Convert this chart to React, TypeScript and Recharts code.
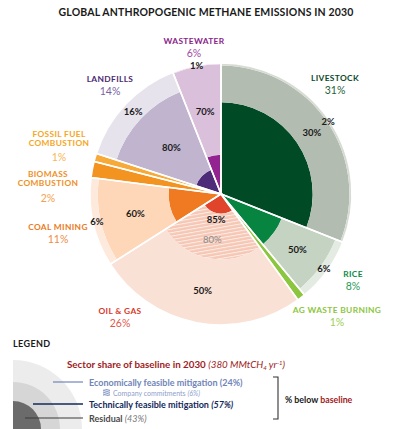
import { PieChart, Pie, Cell } from "recharts";

// sectors clockwise from 12 o'clock
const sectors = [
  "LIVESTOCK",
  "RICE",
  "AG WASTE BURNING",
  "OIL & GAS",
  "COAL MINING",
  "BIOMASS COMBUSTION",
  "FOSSIL FUEL COMBUSTION",
  "LANDFILLS",
  "WASTEWATER",
];
const baselineShare = [31, 8, 1, 26, 11, 2, 1, 14, 6];
const technicalMitigation = [30, 50, 0, 85, 60, 0, 0, 80, 70];
const economicMitigation = [2, 6, 0, 50, 6, 0, 0, 16, 1];
const companyCommitments = [0, 0, 0, 80, 0, 0, 0, 0, 0];

const residualColors = ["#004b26", "#078440", "#8cc63f", "#e0452b", "#f07a22", "#f39320", "#f8aa38", "#4e2b78", "#932391"];
const techColors = ["#b2bcb0", "#c4d3c2", "#8cc63f", "url(#oilHatch)", "#fdd7b8", "#f39320", "#f8aa38", "#c1b4cf", "#dbc0dc"];
const econColors = ["#d6dcd3", "#e4ebe2", "#8cc63f", "#fae1d6", "#fdeadc", "#f39320", "#f8aa38", "#e7e3ec", "#ecdeed"];

const nameColors = ["#0c4a2a", "#0c8a45", "#8cc63f", "#d8392b", "#ea7a23", "#f0901e", "#f6a623", "#4a2a72", "#8a2589"];
const shareColors = ["#1f6139", "#2a9a58", "#9ccf55", "#e0574a", "#ee8c45", "#f3a150", "#f8b656", "#7a5fa5", "#a44aa3"];

const CX = 221;
const CY = 194;
const R = 131;
const RAD = Math.PI / 180;
const FONT = "Lato, 'Open Sans', sans-serif";

const pieData = sectors.map((name, i) => ({ name, value: baselineShare[i] }));
const legendData = [{ name: "baseline", value: 1 }];

const bands = sectors.flatMap((_, i) => {
  const rRes = R * (1 - technicalMitigation[i] / 100);
  const rEcon = R * (1 - economicMitigation[i] / 100);
  return [
    { key: `res-${i}`, idx: i, inner: 0, outer: rRes, fill: residualColors[i] },
    { key: `tech-${i}`, idx: i, inner: rRes, outer: rEcon, fill: techColors[i] },
    { key: `econ-${i}`, idx: i, inner: rEcon, outer: R, fill: econColors[i] },
  ].filter((b) => b.outer - b.inner > 0.01);
});

const renderBandLabels = (props: any) => {
  const { cx, cy, midAngle, index } = props;
  const tech = technicalMitigation[index];
  const econ = economicMitigation[index];
  const comp = companyCommitments[index];
  const rRes = R * (1 - tech / 100);
  const rEcon = R * (1 - econ / 100);
  const at = (r: number) => ({
    x: cx + r * Math.cos(-midAngle * RAD),
    y: cy + r * Math.sin(-midAngle * RAD),
  });
  const items: { r: number; text: string; color: string; weight: number }[] = [];
  if (tech > 0) items.push({ r: comp > 0 ? rRes + 6 : (rRes + rEcon) / 2, text: `${tech}%`, color: "#1a1a1a", weight: 700 });
  if (econ > 0) items.push({ r: (rEcon + R) / 2, text: `${econ}%`, color: "#1a1a1a", weight: 700 });
  if (comp > 0) items.push({ r: (R * (1 - comp / 100) + rEcon) / 2, text: `${comp}%`, color: "#8a8a8a", weight: 400 });
  return (
    <g key={`lbl-${index}`}>
      {items.map((it, k) => {
        const p = at(it.r);
        return (
          <text key={k} x={p.x} y={p.y} textAnchor="middle" dominantBaseline="central" fontSize={9.5} fontWeight={it.weight} fill={it.color} fontFamily={FONT}>
            {it.text}
          </text>
        );
      })}
    </g>
  );
};

// sector name label placement (lines, x, y of first line)
const nameLabels = [
  { lines: ["LIVESTOCK"], x: 335, y: 78 },
  { lines: ["RICE"], x: 353, y: 274 },
  { lines: ["AG WASTE BURNING"], x: 337, y: 310 },
  { lines: ["OIL & GAS"], x: 120, y: 311 },
  { lines: ["COAL MINING"], x: 58, y: 227 },
  { lines: ["BIOMASS", "COMBUSTION"], x: 48, y: 174 },
  { lines: ["FOSSIL FUEL", "COMBUSTION"], x: 59, y: 134 },
  { lines: ["LANDFILLS"], x: 110, y: 79 },
  { lines: ["WASTEWATER"], x: 194, y: 41 },
];
const shareOffsets = [11.5, 11.5, 12, 12, 11.5, 15, 14, 11.5, 11.5];
const LINE_GAP = 9;

export default function App() {
  return (
    <div style={{ position: "absolute", left: 0, top: 0, width: 393, height: 429, background: "#fff" }}>
      <PieChart width={393} height={429} margin={{ top: 0, right: 0, bottom: 0, left: 0 }}>
        <defs>
          <pattern id="oilHatch" width="6" height="3.4" patternUnits="userSpaceOnUse" patternTransform="rotate(-10)">
            <rect width="6" height="3.4" fill="#f6c7b5" />
            <rect width="6" height="1" y="0" fill="#fdeee8" />
          </pattern>
          <pattern id="blueHatch" width="4" height="2" patternUnits="userSpaceOnUse" patternTransform="rotate(-20)">
            <rect width="4" height="2" fill="#e4e9f4" />
            <rect width="4" height="1" fill="#8a9cc8" />
          </pattern>
        </defs>
        {/* legend quarter rings */}
        <Pie data={legendData} dataKey="value" cx={13} cy={429} innerRadius={0} outerRadius={69} startAngle={90} endAngle={0} fill="#ececec" stroke="none" isAnimationActive={false} />
        <Pie data={legendData} dataKey="value" cx={13} cy={429} innerRadius={0} outerRadius={47} startAngle={90} endAngle={0} fill="#d6d6d6" stroke="none" isAnimationActive={false} />
        <Pie data={legendData} dataKey="value" cx={13} cy={429} innerRadius={0} outerRadius={28} startAngle={90} endAngle={0} fill="#6b6b6b" stroke="none" isAnimationActive={false} />
        {bands.map((b) => (
          <Pie
            key={b.key}
            data={pieData}
            dataKey="value"
            cx={CX}
            cy={CY}
            innerRadius={b.inner}
            outerRadius={b.outer}
            startAngle={90}
            endAngle={-270}
            stroke="none"
            isAnimationActive={false}
          >
            {pieData.map((_, j) => (
              <Cell key={j} fill={j === b.idx ? b.fill : "transparent"} />
            ))}
          </Pie>
        ))}
        {/* white separators + inner % labels */}
        <Pie
          data={pieData}
          dataKey="value"
          cx={CX}
          cy={CY}
          innerRadius={0}
          outerRadius={R}
          startAngle={90}
          endAngle={-270}
          fill="none"
          stroke="#ffffff"
          strokeWidth={1.6}
          label={renderBandLabels}
          labelLine={false}
          isAnimationActive={false}
        />
      </PieChart>

      <svg width={393} height={429} style={{ position: "absolute", left: 0, top: 0, pointerEvents: "none" }} fontFamily={FONT}>
        <text x={206} y={16} textAnchor="middle" fontSize={10.5} fontWeight={700} fill="#1a1a1a" letterSpacing={0.15}>
          GLOBAL ANTHROPOGENIC METHANE EMISSIONS IN 2030
        </text>

        {nameLabels.map((l, i) => (
          <g key={sectors[i]}>
            {l.lines.map((line, k) => (
              <text key={k} x={l.x} y={l.y + k * LINE_GAP} textAnchor="middle" dominantBaseline="central" fontSize={8.4} fontWeight={700} fill={nameColors[i]} letterSpacing={0.35}>
                {line}
              </text>
            ))}
            <text x={l.x} y={l.y + (l.lines.length - 1) * LINE_GAP + shareOffsets[i]} textAnchor="middle" dominantBaseline="central" fontSize={10.5} fill={shareColors[i]}>
              {baselineShare[i]}%
            </text>
          </g>
        ))}

        {/* legend */}
        <text x={13} y={347} fontSize={9} fontWeight={700} fill="#1a1a1a" letterSpacing={0.4}>LEGEND</text>
        <text x={67} y={368} fontSize={9.8} fontWeight={700} fill="#a01c24">
          Sector share of baseline in 2030{" "}
          <tspan fontWeight={400} fontStyle="italic">(380 MMtCH</tspan>
          <tspan fontWeight={400} fontStyle="italic" fontSize={6} dy={2}>4</tspan>
          <tspan fontWeight={400} fontStyle="italic" dy={-2}> yr</tspan>
          <tspan fontWeight={400} fontStyle="italic" fontSize={6} dy={-3}>-1</tspan>
          <tspan fontWeight={400} fontStyle="italic" dy={3}>)</tspan>
        </text>

        <line x1={53} y1={382} x2={83} y2={382} stroke="#7185b8" strokeWidth={1.2} />
        <text x={89} y={386} fontSize={9} fontWeight={700} fill="#7185b8">
          Economically feasible mitigation (24%)
        </text>
        <rect x={103} y={389} width={7} height={7} fill="url(#blueHatch)" />
        <text x={113} y={395.5} fontSize={7} fill="#8ea0cc">
          Company commitments <tspan fontStyle="italic">(6%)</tspan>
        </text>

        <line x1={33} y1={404} x2={83} y2={404} stroke="#14285a" strokeWidth={1.6} />
        <text x={89} y={408} fontSize={9} fontWeight={700} fill="#14285a">
          Technically feasible mitigation <tspan fontStyle="italic">(57%)</tspan>
        </text>

        <line x1={25} y1={418} x2={83} y2={418} stroke="#3a3a3a" strokeWidth={1.2} />
        <text x={89} y={421.5} fontSize={9} fontWeight={700} fill="#4a4a4a">
          Residual <tspan fontStyle="italic" fontWeight={400} fill="#777">(43%)</tspan>
        </text>

        <path d="M273 377 H278 V419 H273" fill="none" stroke="#333" strokeWidth={1.1} />
        <text x={285} y={403} fontSize={8.8} fontWeight={700} fill="#1a1a1a">
          % below <tspan fill="#a01c24">baseline</tspan>
        </text>
      </svg>
    </div>
  );
}
